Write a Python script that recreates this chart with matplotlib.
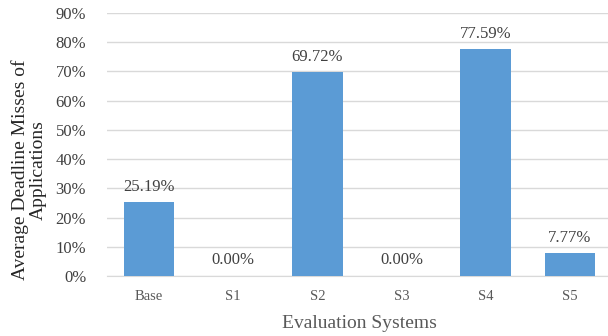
import matplotlib
matplotlib.use("Agg")
import matplotlib.pyplot as plt
from matplotlib.ticker import PercentFormatter

systems = ["Base", "S1", "S2", "S3", "S4", "S5"]
misses = [25.19, 0.00, 69.72, 0.00, 77.59, 7.77]

plt.rcParams["font.family"] = ["Liberation Serif", "DejaVu Serif"]

fig = plt.figure(figsize=(6.08, 3.36), dpi=100)
ax = fig.add_axes([107 / 608, 60 / 336, 505 / 608, 263 / 336])

x = range(len(systems))
bars = ax.bar(x, misses, width=0.6, color="#5B9BD5", zorder=3)

for b, v in zip(bars, misses):
    ax.text(b.get_x() + b.get_width() / 2, v + 2.6, f"{v:.2f}%",
            ha="center", va="bottom", fontsize=12, color="#404040")

ax.set_xlim(-0.5, len(systems) - 0.5)
ax.set_ylim(0, 90)
ax.set_yticks(range(0, 91, 10))
ax.yaxis.set_major_formatter(PercentFormatter(decimals=0))
ax.set_xticks(list(x))
ax.set_xticklabels(systems)

ax.grid(axis="y", color="#D9D9D9", linewidth=1, zorder=0)
for s in ["top", "right", "left"]:
    ax.spines[s].set_visible(False)
ax.spines["bottom"].set_color("#D9D9D9")
ax.tick_params(axis="both", length=0)
ax.tick_params(axis="y", labelsize=12, labelcolor="#404040", pad=15)
ax.tick_params(axis="x", labelsize=10.5, labelcolor="#595959", pad=10)

ax.set_xlabel("Evaluation Systems", fontsize=14, color="#595959", labelpad=9)
fig.text(29 / 608, 1 - 170 / 336, "Average Deadline Misses of\nApplications",
         rotation=90, ha="center", va="center", fontsize=14,
         color="#262626", linespacing=1.0)

fig.savefig("out.png", dpi=100)
